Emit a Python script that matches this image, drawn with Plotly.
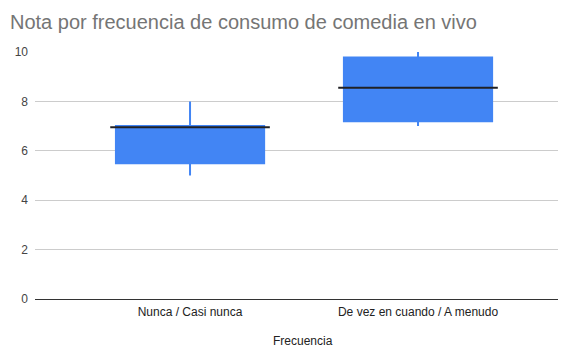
import plotly.graph_objects as go

categories = ["Nunca / Casi nunca", "De vez en cuando / A menudo"]
lower = [5.0, 7.0]
q1 = [5.5, 7.2]
median = [6.95, 8.55]
q3 = [7.0, 9.78]
upper = [8.0, 10.0]

xpos = list(range(len(categories)))
blue = "#4285F4"

fig = go.Figure()
fig.add_trace(go.Box(
    x=xpos, lowerfence=lower, q1=q1, median=median, q3=q3, upperfence=upper,
    fillcolor=blue, line=dict(color=blue, width=2), whiskerwidth=0,
    width=0.65, boxpoints=False, hoverinfo="skip", showlegend=False,
))
for i, m in enumerate(median):
    fig.add_trace(go.Scatter(
        x=[xpos[i] - 0.35, xpos[i] + 0.35], y=[m, m], mode="lines",
        line=dict(color="#202124", width=2), showlegend=False, hoverinfo="skip",
    ))

fig.update_layout(
    width=588, height=354,
    margin=dict(l=35, r=30, t=52, b=55),
    paper_bgcolor="white", plot_bgcolor="white",
    font=dict(family="Liberation Sans, Arial, sans-serif", size=12, color="#222222"),
    title=dict(text="Nota por frecuencia de consumo de comedia en vivo",
               x=10/588, xanchor="left", y=1-22/354, yanchor="middle",
               font=dict(size=20, color="#757575")),
    xaxis=dict(range=[-0.68, 1.614], tickvals=xpos, ticktext=categories,
               showgrid=False, zeroline=False, showline=False, ticks="",
               ticklabelstandoff=4),
    yaxis=dict(range=[0, 10], dtick=2, showgrid=True, gridcolor="#cccccc",
               zeroline=True, zerolinecolor="#333333", zerolinewidth=1,
               ticks="", ticklabelstandoff=6, tickfont=dict(color="#444444")),
    annotations=[dict(text="Frecuencia", xref="paper", yref="paper",
                      x=(303-35)/523, y=-(341-299)/247, xanchor="center", yanchor="middle",
                      showarrow=False, font=dict(size=12, color="#222222"))],
)

fig.write_html("out.html")
